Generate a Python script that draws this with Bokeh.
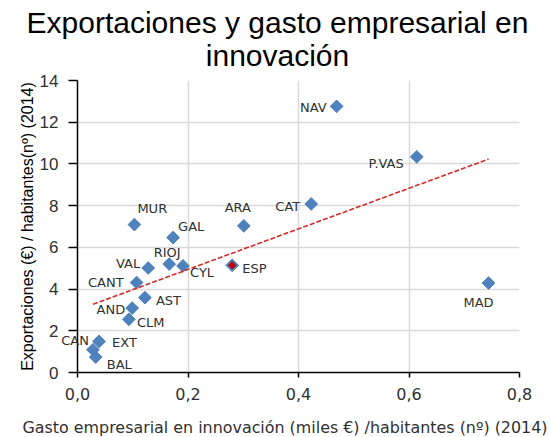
import numpy as np
from bokeh.plotting import figure
from bokeh.models import Range1d, FixedTicker, CustomJSTickFormatter, ColumnDataSource, Label
from bokeh.embed import file_html
from bokeh.resources import INLINE

# ---- data ----
regions = ["NAV", "P.VAS", "CAT", "MAD", "MUR", "ARA", "GAL", "RIOJ", "VAL",
           "CYL", "CANT", "AST", "AND", "CLM", "EXT", "CAN", "BAL"]
gasto = [0.469, 0.614, 0.423, 0.744, 0.103, 0.301, 0.173, 0.166, 0.128,
         0.191, 0.107, 0.122, 0.099, 0.093, 0.039, 0.028, 0.033]
exportaciones = [12.76, 10.34, 8.08, 4.29, 7.09, 7.03, 6.47, 5.20, 5.01,
                 5.11, 4.31, 3.59, 3.09, 2.55, 1.49, 1.09, 0.74]
esp_name = ["ESP"]
esp_gasto = [0.280]
esp_exportaciones = [5.14]
x_ticks = [0.0, 0.2, 0.4, 0.6, 0.8]
y_ticks = [0, 2, 4, 6, 8, 10, 12, 14]

title_line1 = "Exportaciones y gasto empresarial en"
title_line2 = "innovación"
x_title = "Gasto empresarial en innovación (miles €) /habitantes (nº) (2014)"
y_title = "Exportaciones (€) / habitantes(nº) (2014)"

# ---- label placement (style only: anchor, pixel offsets, +down) ----
label_style = {
    "NAV": ("right", -10, 1), "P.VAS": ("right", -13, 7), "CAT": ("right", -11, 3),
    "MAD": ("center", -10, 19), "MUR": ("left", 3, -16), "ARA": ("center", -6, -18),
    "GAL": ("left", 5, -11), "RIOJ": ("center", -2, -12), "VAL": ("right", -8, -5),
    "CYL": ("left", 7, 7), "CANT": ("right", -13, 0), "AST": ("left", 11, 3),
    "AND": ("right", -7, 1), "CLM": ("left", 8, 3), "EXT": ("left", 13, 1),
    "CAN": ("right", -4, -9), "BAL": ("left", 11, 7), "ESP": ("left", 10, 3),
}
# labels that overflow the plot frame are placed in a side panel (not clipped)
unclipped_labels = {"CAN"}

BLUE = "#4F81BD"
RED = "#C00000"
TXT = "#303030"

p = figure(width=550, height=437, output_backend="svg", toolbar_location=None,
           x_range=Range1d(0, 0.8), y_range=Range1d(0, 14), title=None,
           min_border_left=77, min_border_right=31, min_border_top=80, min_border_bottom=65)
p.outline_line_color = None
p.background_fill_color = "white"
p.border_fill_color = "white"

# grid
for g in (p.xgrid, p.ygrid):
    g.grid_line_color = "#D9D9D9"
    g.grid_line_width = 1.5
p.xaxis.ticker = FixedTicker(ticks=x_ticks)
p.yaxis.ticker = FixedTicker(ticks=y_ticks)
p.xaxis.formatter = CustomJSTickFormatter(code="return tick.toFixed(1).replace('.', ',')")

for ax in (p.xaxis, p.yaxis):
    ax.axis_line_color = "black"
    ax.axis_line_width = 1.5
    ax.major_tick_line_color = "black"
    ax.major_tick_line_width = 1.5
    ax.minor_tick_line_color = None
    ax.major_tick_in = 0
    ax.major_label_text_color = TXT

p.xaxis.major_tick_out = 5
p.xaxis.major_label_standoff = 10
p.xaxis.major_label_text_font = "DejaVu Sans"
p.xaxis.major_label_text_font_size = "16px"

p.yaxis.major_tick_out = 9
p.yaxis.major_label_standoff = 10
p.yaxis.major_label_text_font = "Liberation Sans"
p.yaxis.major_label_text_font_size = "17px"
p.yaxis.axis_label = y_title
p.yaxis.axis_label_text_font = "Liberation Sans"
p.yaxis.axis_label_text_font_size = "16px"
p.yaxis.axis_label_text_font_style = "normal"
p.yaxis.axis_label_text_color = "black"
p.yaxis.axis_label_standoff = 1

# titles as canvas-positioned labels in side panels (not clipped by the frame)
for txt, yc in ((title_line1, 22), (title_line2, 55)):
    p.add_layout(Label(x=277, y=yc, x_units="canvas", y_units="canvas", text=txt,
                       text_align="center", text_baseline="middle",
                       text_font="Liberation Sans", text_font_size="30px",
                       text_color="black"), "above")
p.add_layout(Label(x=22, y=427, x_units="canvas", y_units="canvas", text=x_title,
                   text_align="left", text_baseline="middle",
                   text_font="DejaVu Sans", text_font_size="15.9px", text_color=TXT),
             "below")

# markers
src = ColumnDataSource(dict(x=gasto, y=exportaciones, name=regions))
p.scatter("x", "y", source=src, marker="square", angle=np.pi / 4, size=9,
          fill_color=BLUE, line_color=BLUE, line_width=1)

esp_src = ColumnDataSource(dict(x=esp_gasto, y=esp_exportaciones, name=esp_name))
p.scatter("x", "y", source=esp_src, marker="square", angle=np.pi / 4, size=9,
          fill_color=BLUE, line_color=BLUE, line_width=1)
p.scatter("x", "y", source=esp_src, marker="square", angle=np.pi / 4, size=5.5,
          fill_color=RED, line_color=RED, line_width=0.5)

# linear trend line over the regions
gx = np.array(gasto)
gy = np.array(exportaciones)
slope, intercept = np.polyfit(gx, gy, 1)
tx_vals = np.array([gx.min(), gx.max()])
p.line(tx_vals, slope * tx_vals + intercept, line_color="#D42A2A", line_width=1.6,
       line_dash="5 2")

# point labels
names = regions + esp_name
lx = list(gasto) + esp_gasto
ly = list(exportaciones) + esp_exportaciones
for n, xv, yv in zip(names, lx, ly):
    al, dx, dy = label_style[n]
    lbl = Label(x=xv, y=yv, text=n, x_offset=dx, y_offset=-dy,
                text_align=al, text_baseline="middle", text_font="DejaVu Sans",
                text_font_size="13px", text_color=TXT)
    if n in unclipped_labels:
        p.add_layout(lbl, "right")
    else:
        p.add_layout(lbl)

open("out.html", "w").write(file_html(p, INLINE))
